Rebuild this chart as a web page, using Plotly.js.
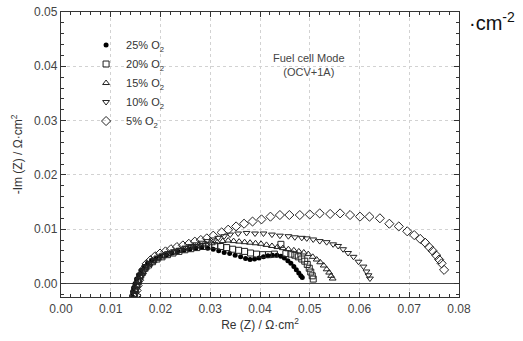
<!DOCTYPE html>
<html>
<head>
<meta charset="utf-8">
<script src="https://cdn.plot.ly/plotly-3.0.1.min.js"></script>
<style>html,body{margin:0;padding:0;background:#fff;}#chart{width:523px;height:341px;}</style>
</head>
<body>
<div id="chart"></div>
<script>
// Series: 25% O2 (filled circles)
const x25 = [0.0142,0.0144,0.0146,0.0149,0.0152,0.0156,0.0161,0.0167,0.0174,0.0182,0.0191,0.0201,0.0212,0.0223,0.0235,0.0247,0.0259,0.0271,0.0283,0.0295,0.0306,0.0317,0.0328,0.0339,0.0350,0.0361,0.0371,0.0380,0.0389,0.0398,0.0407,0.0416,0.0425,0.0434,0.0442,0.0449,0.0456,0.0462,0.0468,0.0473,0.0478,0.0482,0.0485];
const y25 = [-0.0023,-0.0015,-0.0008,0.0000,0.0008,0.0016,0.0024,0.0031,0.0037,0.0042,0.0046,0.0050,0.0053,0.0056,0.0059,0.0061,0.0063,0.0065,0.0066,0.0065,0.0063,0.0060,0.0057,0.0055,0.0052,0.0049,0.0046,0.0044,0.0045,0.0047,0.0049,0.0051,0.0052,0.0052,0.0050,0.0047,0.0042,0.0037,0.0031,0.0025,0.0019,0.0014,0.0011];
// 20% O2 (open squares)
const x20 = [0.0146,0.0148,0.0151,0.0154,0.0158,0.0163,0.0169,0.0176,0.0184,0.0193,0.0203,0.0214,0.0225,0.0237,0.0249,0.0261,0.0273,0.0285,0.0297,0.0309,0.0321,0.0333,0.0345,0.0357,0.0369,0.0381,0.0393,0.0405,0.0417,0.0429,0.0442,0.0452,0.0462,0.0470,0.0477,0.0484,0.0490,0.0495,0.0499,0.0502,0.0505,0.0507];
const y20 = [-0.0022,-0.0013,-0.0005,0.0004,0.0012,0.0020,0.0028,0.0034,0.0040,0.0045,0.0049,0.0053,0.0056,0.0059,0.0062,0.0064,0.0066,0.0068,0.0069,0.0070,0.0068,0.0066,0.0063,0.0061,0.0059,0.0056,0.0054,0.0053,0.0053,0.0054,0.0072,0.0055,0.0054,0.0052,0.0049,0.0045,0.0041,0.0035,0.0028,0.0021,0.0014,0.0008];
// 15% O2 (open triangles up)
const x15 = [0.0148,0.0150,0.0153,0.0156,0.0160,0.0165,0.0171,0.0178,0.0186,0.0195,0.0205,0.0215,0.0226,0.0237,0.0248,0.0259,0.0270,0.0281,0.0292,0.0303,0.0314,0.0325,0.0336,0.0347,0.0358,0.0369,0.0380,0.0391,0.0402,0.0413,0.0424,0.0435,0.0446,0.0457,0.0468,0.0478,0.0488,0.0497,0.0506,0.0514,0.0521,0.0528,0.0534,0.0539,0.0543,0.0546];
const y15 = [-0.0021,-0.0012,-0.0004,0.0005,0.0013,0.0021,0.0029,0.0035,0.0041,0.0046,0.0050,0.0054,0.0057,0.0060,0.0063,0.0066,0.0068,0.0070,0.0072,0.0074,0.0076,0.0078,0.0079,0.0078,0.0077,0.0076,0.0075,0.0074,0.0073,0.0071,0.0069,0.0067,0.0065,0.0063,0.0061,0.0059,0.0057,0.0054,0.0049,0.0044,0.0039,0.0033,0.0026,0.0020,0.0014,0.0009];
// 10% O2 (open triangles down)
const x10 = [0.0150,0.0152,0.0155,0.0158,0.0162,0.0167,0.0173,0.0180,0.0188,0.0197,0.0207,0.0217,0.0228,0.0239,0.0250,0.0261,0.0272,0.0283,0.0294,0.0305,0.0316,0.0328,0.0340,0.0356,0.0373,0.0390,0.0407,0.0424,0.0440,0.0457,0.0470,0.0484,0.0494,0.0507,0.0520,0.0534,0.0547,0.0557,0.0567,0.0577,0.0588,0.0598,0.0608,0.0614,0.0618,0.0621];
const y10 = [-0.0020,-0.0011,-0.0003,0.0006,0.0014,0.0022,0.0030,0.0036,0.0042,0.0047,0.0051,0.0055,0.0059,0.0062,0.0066,0.0069,0.0072,0.0075,0.0078,0.0081,0.0084,0.0087,0.0090,0.0092,0.0093,0.0092,0.0092,0.0090,0.0088,0.0087,0.0085,0.0084,0.0083,0.0081,0.0078,0.0076,0.0072,0.0069,0.0063,0.0056,0.0049,0.0040,0.0031,0.0022,0.0015,0.0009];
// 5% O2 (open diamonds)
const x05 = [0.0151,0.0152,0.0154,0.0157,0.0161,0.0166,0.0172,0.0180,0.0189,0.0199,0.0210,0.0221,0.0233,0.0245,0.0257,0.0269,0.0281,0.0293,0.0306,0.0323,0.0336,0.0352,0.0368,0.0385,0.0403,0.0421,0.0440,0.0459,0.0480,0.0500,0.0520,0.0541,0.0561,0.0581,0.0601,0.0620,0.0641,0.0660,0.0679,0.0696,0.0710,0.0722,0.0732,0.0740,0.0747,0.0754,0.0760,0.0765,0.0770];
const y05 = [-0.0022,-0.0013,-0.0004,0.0006,0.0016,0.0026,0.0036,0.0043,0.0050,0.0055,0.0059,0.0063,0.0067,0.0070,0.0073,0.0077,0.0080,0.0083,0.0088,0.0094,0.0099,0.0105,0.0110,0.0114,0.0118,0.0123,0.0126,0.0126,0.0126,0.0127,0.0129,0.0128,0.0129,0.0126,0.0123,0.0123,0.0120,0.0110,0.0105,0.0096,0.0089,0.0082,0.0075,0.0067,0.0060,0.0052,0.0044,0.0037,0.0025];

const seriesNames = ['25% O<sub>2</sub>','20% O<sub>2</sub>','15% O<sub>2</sub>','10% O<sub>2</sub>','5% O<sub>2</sub>'];
const xTickVals = [0,0.01,0.02,0.03,0.04,0.05,0.06,0.07,0.08];
const yTickVals = [0,0.01,0.02,0.03,0.04,0.05];

const ink = '#222';
function open(sym, size) {
  return {symbol: sym, size: size, color: ink, line: {color: ink, width: 1}};
}
const traces = [
  {x: x25, y: y25, name: seriesNames[0], mode: 'markers', marker: {symbol: 'circle', size: 5, color: '#000', line: {width: 0}}},
  {x: x20, y: y20, name: seriesNames[1], mode: 'markers', marker: open('square-open', 6)},
  {x: x15, y: y15, name: seriesNames[2], mode: 'markers', marker: open('triangle-up-open', 6)},
  {x: x10, y: y10, name: seriesNames[3], mode: 'markers', marker: open('triangle-down-open', 6)},
  {x: x05, y: y05, name: seriesNames[4], mode: 'markers', marker: open('diamond-open', 7)}
];

const axisCommon = {
  showline: true, linecolor: '#333', linewidth: 1.2, mirror: 'allticks',
  ticks: 'inside', ticklen: 5, tickcolor: '#333', tickwidth: 1,
  showgrid: true, gridcolor: '#d2d2d2', griddash: 'dot', gridwidth: 1,
  tickfont: {family: 'Liberation Sans, Arial, sans-serif', size: 12, color: '#444'},
  tickformat: '.2f'
};

const layout = {
  width: 523, height: 341,
  margin: {l: 61, r: 64, t: 12, b: 44},
  paper_bgcolor: '#fff', plot_bgcolor: '#fff',
  font: {family: 'Liberation Sans, Arial, sans-serif', color: '#333'},
  showlegend: true,
  legend: {x: 0.063, y: 0.935, xanchor: 'left', yanchor: 'top', bgcolor: 'rgba(0,0,0,0)',
           font: {size: 11, color: '#333'}, borderwidth: 0},
  xaxis: Object.assign({}, axisCommon, {
    range: [0, 0.08], tickvals: xTickVals, zeroline: false,
    minor: {dtick: 0.002, ticks: 'inside', ticklen: 3, tickcolor: '#333', showgrid: false},
    title: {text: 'Re (Z) / Ω·cm<sup>2</sup>', font: {size: 12, color: '#333'}, standoff: 6}
  }),
  yaxis: Object.assign({}, axisCommon, {
    range: [-0.0025, 0.05], tickvals: yTickVals,
    zeroline: true, zerolinecolor: '#444', zerolinewidth: 1.3,
    minor: {dtick: 0.002, ticks: 'inside', ticklen: 3, tickcolor: '#333', showgrid: false},
    title: {text: '-Im (Z) / Ω·cm<sup>2</sup>', font: {size: 12, color: '#333'}, standoff: 8}
  }),
  annotations: [
    {xref: 'paper', yref: 'paper', x: 0.719, y: 0.865, text: 'Fuel cell Mode<br>(OCV+1A)',
     showarrow: false, align: 'center', font: {size: 11, color: '#444'}},
    {xref: 'paper', yref: 'paper', x: 1.02, y: 0.965, xanchor: 'left', yanchor: 'middle',
     text: '·cm<sup>-2</sup>', showarrow: false, font: {size: 20, color: '#111'}}
  ]
};

Plotly.newPlot('chart', traces, layout, {displayModeBar: false, staticPlot: true});
</script>
</body>
</html>
